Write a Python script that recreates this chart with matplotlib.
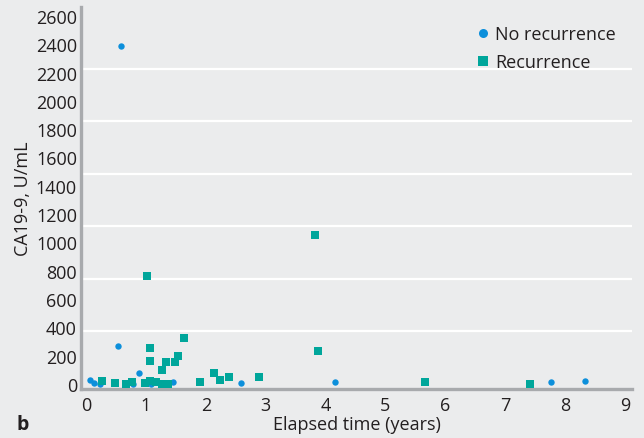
import numpy as np
import matplotlib
matplotlib.use('Agg')
import matplotlib.pyplot as plt

# values
no_rec_x = [0.06, 0.14, 0.23, 0.53, 0.58, 0.79, 0.88, 1.08, 1.38, 1.45, 2.58, 4.16, 7.77, 8.34]
no_rec_y = [25, 5, 0, 265, 2390, 0, 80, 0, 5, 10, 5, 10, 10, 20]

rec_x = [0.27, 0.49, 0.66, 0.76, 0.98, 1.02, 1.06, 1.07, 1.07, 1.17, 1.26, 1.27, 1.34,
         1.36, 1.49, 1.54, 1.64, 1.91, 2.13, 2.23, 2.38, 2.88, 3.82, 3.87, 5.66, 7.42]
rec_y = [19, 5, 0, 12, 5, 760, 163, 252, 19, 12, 99, 0, 153,
         0, 153, 196, 323, 12, 78, 26, 47, 47, 1050, 233, 12, 0]

x_ticks = list(range(0, 10))
y_ticks = list(range(0, 2601, 200))

bg = '#ebeced'
plt.rcParams['font.family'] = ['Open Sans', 'DejaVu Sans']

fig = plt.figure(figsize=(6.44, 4.39), dpi=100, facecolor=bg)
ax = fig.add_axes([0.126, 0.112, 0.855, 0.870], facecolor=bg)

ax.plot(no_rec_x, no_rec_y, 'o', color='#0c8fdb', ms=4.6, mew=0, label='No recurrence', zorder=3)
ax.plot(rec_x, rec_y, 's', color='#00a69b', ms=6.2, mew=0, label='Recurrence', zorder=3)

ax.set_xlim(-0.083, 9.115)
ax.set_ylim(-35, 2664)
ax.set_xticks(x_ticks)
ax.set_yticks(y_ticks)
ax.set_yticks(np.linspace(0, 2600, 8), minor=True)
ax.grid(which='minor', axis='y', color='white', lw=1.6)
ax.set_axisbelow(True)
ax.tick_params(which='both', length=0, labelsize=13, colors='#231f20')
ax.tick_params(axis='y', pad=3)
ax.tick_params(axis='x', pad=5)

for s in ['top', 'right']:
    ax.spines[s].set_visible(False)
for s in ['left', 'bottom']:
    ax.spines[s].set_color('#a8aaad')
    ax.spines[s].set_linewidth(2.4)

ax.set_xlabel('Elapsed time (years)', fontsize=13, color='#231f20', labelpad=1)
ax.set_ylabel('CA19-9, U/mL', fontsize=13, color='#231f20', labelpad=3)

leg = ax.legend(loc='upper right', bbox_to_anchor=(1.0, 0.995), frameon=False, fontsize=13,
                handletextpad=0.25, handlelength=0.8, labelspacing=0.55)
leg.legend_handles[0].set_markersize(6.5)
leg.legend_handles[1].set_markersize(7.2)
for t in leg.get_texts():
    t.set_color('#231f20')

fig.text(0.026, 0.02, 'b', fontsize=14, fontweight='bold', color='#231f20')

fig.savefig('out.png', dpi=100, facecolor=bg)
